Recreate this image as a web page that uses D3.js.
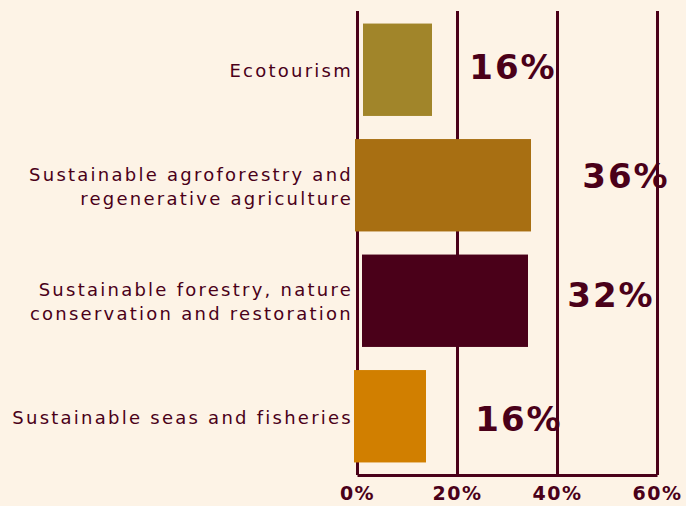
<!DOCTYPE html>
<html><head><meta charset="utf-8">
<script src="https://cdn.jsdelivr.net/npm/d3@7"></script>
<style>
html,body{margin:0;padding:0;background:#FDF3E6;}
svg{display:block;}
</style></head>
<body>
<svg id="chart" width="686" height="506"></svg>
<script>
// ---- data ----
const categories = [
  ["Ecotourism"],
  ["Sustainable agroforestry and", "regenerative agriculture"],
  ["Sustainable forestry, nature", "conservation and restoration"],
  ["Sustainable seas and fisheries"]
];
const shares = [16, 36, 32, 16];            // percent labels
const barFrom = [1.2, -0.4, 1.0, -0.6];      // bar extent as drawn (percent)
const barTo = [15.0, 34.8, 34.2, 13.8];
const labelAt = [31.2, 53.8, 50.8, 32.4];    // label centre (percent)
const barColors = ["#A1852A", "#A86F12", "#4A0019", "#D17F00"];
const tickValues = [0, 20, 40, 60];

const maroon = "#4A0019";
const svg = d3.select("#chart");
const ids = categories.map((c, i) => i);

const x = d3.scaleLinear().domain([0, 60]).range([357, 657]);
const y = d3.scaleBand().domain(ids).range([12, 474]).paddingInner(0.2).paddingOuter(0.1);

// axis with gridlines
const axisG = svg.append("g").attr("transform", "translate(0,475)")
  .call(d3.axisBottom(x).tickValues(tickValues).tickFormat(d => d + "%")
        .tickSizeInner(-464).tickSizeOuter(0).tickPadding(12));
axisG.select(".domain").attr("stroke", maroon).attr("stroke-width", 3);
axisG.selectAll(".tick line").attr("stroke", maroon).attr("stroke-width", 3);
axisG.selectAll(".tick text")
  .attr("fill", maroon)
  .attr("font-family", "DejaVu Sans")
  .attr("font-weight", "bold")
  .attr("font-size", 19)
  .attr("letter-spacing", 1.5)
  .attr("dy", "0.71em");

// bars
svg.append("g").selectAll("rect").data(ids).join("rect")
  .attr("x", i => x(barFrom[i]))
  .attr("width", i => x(barTo[i]) - x(barFrom[i]))
  .attr("y", i => y(i))
  .attr("height", y.bandwidth())
  .attr("fill", i => barColors[i]);

// category labels
const catG = svg.append("g");
ids.forEach(i => {
  const lines = categories[i];
  const cy = y(i) + y.bandwidth() / 2;
  const lh = 24;
  const t = catG.append("text")
    .attr("text-anchor", "end")
    .attr("fill", maroon)
    .attr("font-family", "DejaVu Sans")
    .attr("font-size", 18)
    .attr("letter-spacing", 2.25);
  lines.forEach((ln, k) => {
    t.append("tspan")
      .attr("x", 353)
      .attr("y", cy + 1 + (k - (lines.length - 1) / 2) * lh)
      .attr("dy", "0.35em")
      .text(ln);
  });
});

// percentage labels
const labelShift = [-3, -9, -6, 3];
svg.append("g").selectAll("text").data(ids).join("text")
  .attr("x", i => x(labelAt[i]))
  .attr("y", i => y(i) + y.bandwidth() / 2 + labelShift[i])
  .attr("text-anchor", "middle")
  .attr("dy", "0.36em")
  .attr("fill", maroon)
  .attr("font-family", "DejaVu Sans")
  .attr("font-weight", "bold")
  .attr("font-size", 34)
  .attr("letter-spacing", 2)
  .text(i => shares[i] + "%");
</script>
</body></html>
